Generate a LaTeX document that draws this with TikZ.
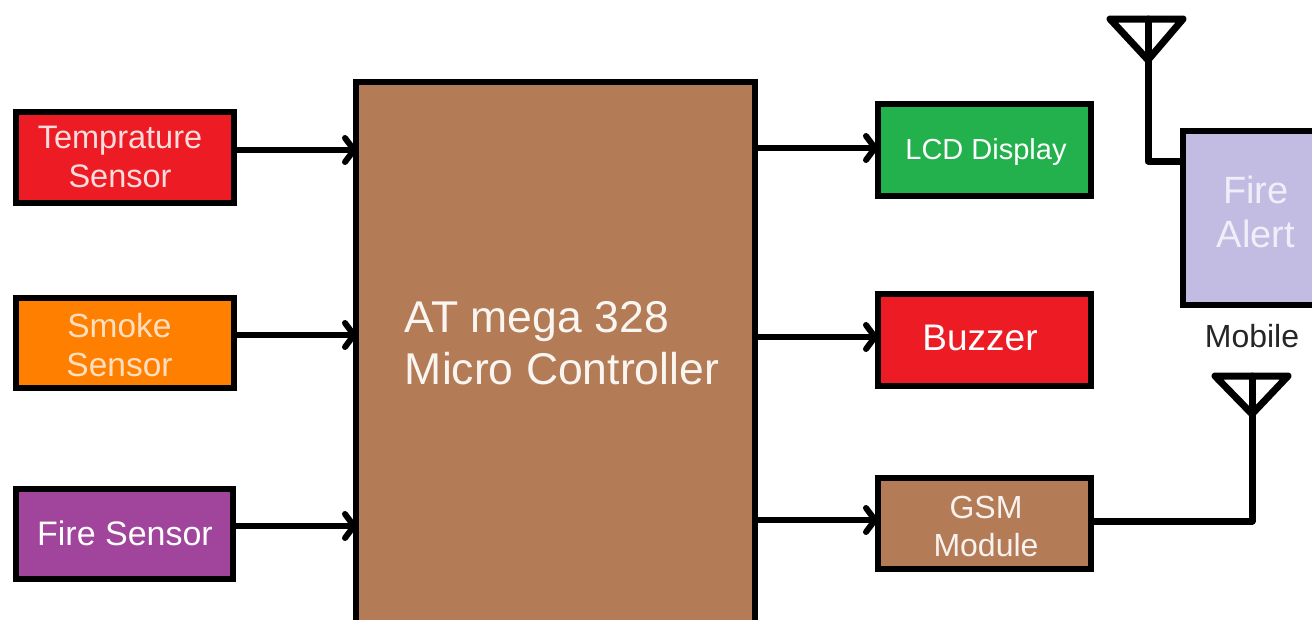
\documentclass[tikz,border=0pt]{standalone}
\usepackage{fontspec}
\setmainfont{Liberation Sans}
\usetikzlibrary{arrows.meta}
\definecolor{cred}{HTML}{ED1C24}
\definecolor{corange}{HTML}{FF7F00}
\definecolor{cpurple}{HTML}{A0449C}
\definecolor{cbrown}{HTML}{B47B57}
\definecolor{cgreen}{HTML}{22B14C}
\definecolor{clav}{HTML}{C3BCE2}
\newcommand{\fsz}[1]{\fontsize{#1}{#1}\selectfont}
\tikzset{
  x=1pt,y=-1pt,
  blockbox/.style={draw=black,line width=6.5pt,inner sep=0pt,anchor=center},
  lbl/.style={text=white,inner sep=0pt,align=center,anchor=center},
  conn/.style={line width=6pt,black,-{Straight Barb[length=9pt,width=24pt,line width=6pt,round]}},
  wire/.style={line width=7pt,black,line cap=round,line join=round},
}
\begin{document}
\begin{tikzpicture}
\useasboundingbox (0,0) rectangle (1312,619);
\begin{scope}
\clip (0,0) rectangle (1312,619);
\fill[white] (0,0) rectangle (1312,619);
% blocks
\node[blockbox,fill=cred,minimum width=218pt,minimum height=91pt] (temp) at (125,157.5) {};
\node[blockbox,fill=corange,minimum width=218pt,minimum height=90pt] (smoke) at (125,343) {};
\node[blockbox,fill=cpurple,minimum width=217pt,minimum height=90pt] (fire) at (124.5,534) {};
\node[blockbox,fill=cbrown,minimum width=399pt,minimum height=618pt] (mcu) at (555.5,391) {};
\node[blockbox,fill=cgreen,minimum width=213pt,minimum height=92pt] (lcd) at (984.5,150) {};
\node[blockbox,fill=cred,minimum width=213pt,minimum height=92pt] (buzzer) at (984.5,340) {};
\node[blockbox,fill=cbrown,minimum width=213pt,minimum height=91pt] (gsm) at (984.5,523.5) {};
\node[blockbox,fill=clav,minimum width=217pt,minimum height=174pt] (alert) at (1291.5,218) {};
% texts
\node[lbl,text=white!85!cred,font=\fsz{32.5}] (temptext) at (120,157) {Temprature\\[7pt]Sensor};
\node[lbl,text=white!75!corange,font=\fsz{33.5}] (smoketext) at (119.5,345) {Smoke\\[6pt]Sensor};
\node[lbl,font=\fsz{34}] (firetext) at (125,533) {Fire Sensor};
\node[lbl,align=left,font=\fsz{44.5},text=white!92!cbrown] (mcutext) at (562,343) {AT mega 328\\[7pt]Micro Controller};
\node[lbl,font=\fsz{29}] (lcdtext) at (986,152) {LCD Display};
\node[lbl,font=\fsz{37}] (buzzertext) at (980,338) {Buzzer};
\node[lbl,text=white!90!cbrown,font=\fsz{32}] (gsmtext) at (986,526) {GSM\\[6pt]Module};
\node[lbl,text=white!75!clav,font=\fsz{38}] (alerttext) at (1256,212) {Fire\\[6pt]Alert};
\node[lbl,text=black!85,font=\fsz{32}] (mobiletext) at (1252,336) {Mobile};
% connector ends
\coordinate (i1) at (357,150);
\coordinate (i2) at (357,335);
\coordinate (i3) at (357,526);
\coordinate (o1) at (878,148);
\coordinate (o2) at (878,337);
\coordinate (o3) at (878,520);
\draw[conn] (temp.east |- i1) -- (i1);
\draw[conn] (smoke.east |- i2) -- (i2);
\draw[conn] (fire.east |- i3) -- (i3);
\draw[conn] (mcu.east |- o1) -- (o1);
\draw[conn] (mcu.east |- o2) -- (o2);
\draw[conn] (mcu.east |- o3) -- (o3);
% upper antenna
\coordinate (ua) at (1148,60);
\coordinate (ut) at (1148,19);
\coordinate (ul) at (1110,19);
\coordinate (ur) at (1183,19);
\coordinate (uj) at (1148,161);
\coordinate (ue) at (1181,161);
\draw[wire] (ul) -- (ur) -- (ua) -- cycle;
\draw[wire] (ut) -- (uj) -- (ue);
% lower antenna
\coordinate (la) at (1252,414);
\coordinate (lt) at (1252,376);
\coordinate (ll) at (1215,376);
\coordinate (lr) at (1288,376);
\coordinate (lj) at (1252,521);
\draw[wire] (ll) -- (lr) -- (la) -- cycle;
\draw[wire] (gsm.east |- lj) -- (lj) -- (lt);
\end{scope}
\end{tikzpicture}
\end{document}
